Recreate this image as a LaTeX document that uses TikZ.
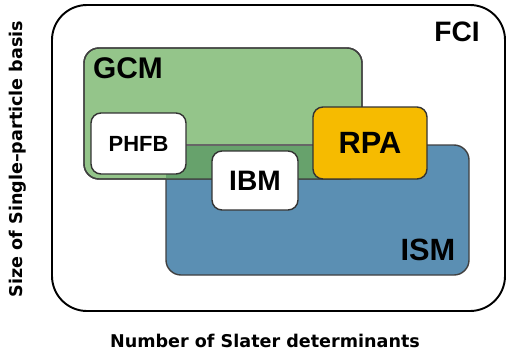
\documentclass[tikz,border=0pt]{standalone}
\usepackage{fontspec}
\setmainfont{Liberation Sans}
\newfontfamily\axisfont{DejaVu Sans}
\usepackage{tikz}
\usetikzlibrary{fit}

\definecolor{gcmgreen}{HTML}{94C58A}
\definecolor{ismblue}{HTML}{5B8FB3}
\definecolor{overlapgreen}{HTML}{67A26C}
\definecolor{rpaorange}{HTML}{F6BB00}

\tikzset{
    region/.style={draw=black!75, line width=0.8pt, inner sep=0pt, outer sep=0pt, rounded corners=0.3cm},
    method/.style={draw=black!80, line width=0.8pt, fill=white, inner sep=0pt, outer sep=0pt, rounded corners=0.2cm},
    biglabel/.style={font=\bfseries\fontsize{16}{16}\selectfont},
    axislabel/.style={font=\axisfont\bfseries\fontsize{10}{10}\selectfont}
}

\begin{document}
\begin{tikzpicture}[x=0.02cm, y=-0.02cm]
    \useasboundingbox (0,0) rectangle (506,352);
    % outer box, full CI
    \node[draw=black, line width=1.1pt, inner sep=0pt, rounded corners=0.7cm, fit={(52,5) (505,311)}] (fci) {};
    \node[biglabel] (fcilab) at (457,32) {FCI};
    % shell model and generator coordinate regions
    \node[region, fill=ismblue, fit={(166,145) (469,275)}] (ism) {};
    \node[region, fill=gcmgreen, fit={(84,48) (362,179)}] (gcm) {};
    \begin{scope}
        \clip[rounded corners=0.3cm] (ism.south west) rectangle (ism.north east);
        \fill[overlapgreen, rounded corners=0.3cm] (gcm.south west) rectangle (gcm.north east);
    \end{scope}
    \draw[black!60, line width=0.6pt] (ism.north west) ++(6,0) -- (gcm.south east |- ism.north);
    \draw[black!75, line width=0.8pt, rounded corners=0.3cm] (gcm.south west) rectangle (gcm.north east);
    \node[biglabel, font=\bfseries\fontsize{17}{17}\selectfont] (gcmlab) at (128,68) {GCM};
    \node[biglabel, font=\bfseries\fontsize{17.5}{17.5}\selectfont] (ismlab) at (428,250) {ISM};
    % approximate methods
    \node[method, fit={(91,113) (186,174)}] (phfb) {};
    \node[font=\bfseries\fontsize{12.5}{12.5}\selectfont] at (phfb) {PHFB};
    \node[method, fit={(212,151) (298,210)}] (ibm) {};
    \node[biglabel] at (ibm) {IBM};
    \node[method, fill=rpaorange, fit={(313,107) (427,179)}] (rpa) {};
    \node[biglabel, font=\bfseries\fontsize{17.5}{17.5}\selectfont] at (rpa) {RPA};
    % axes
    \node[axislabel, rotate=90] (ylab) at (18,159) {Size of Single–particle basis};
    \node[axislabel] (xlab) at (265,341) {Number of Slater determinants};
\end{tikzpicture}
\end{document}
